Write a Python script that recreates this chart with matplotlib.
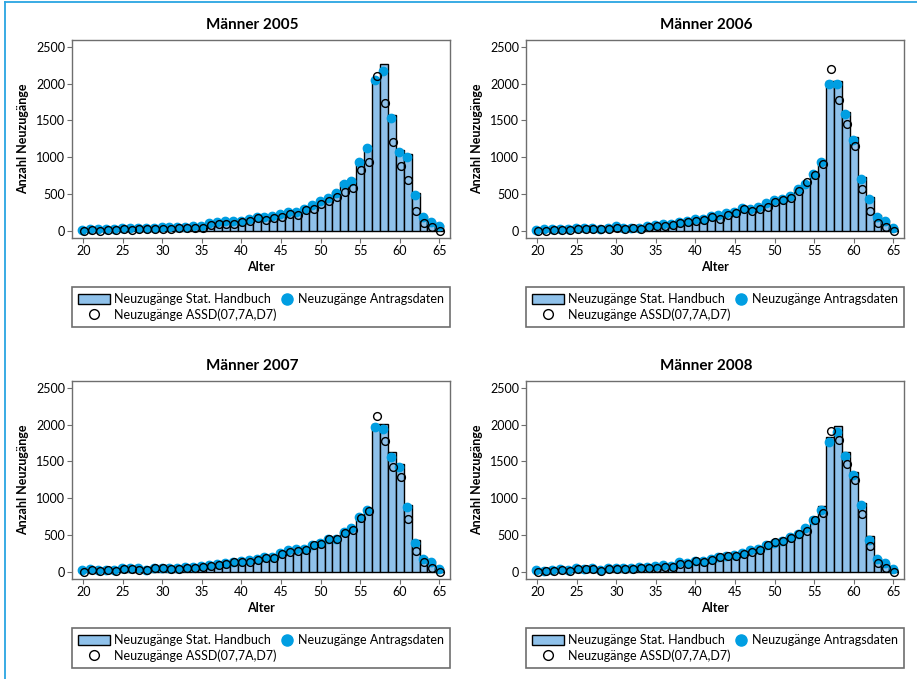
import numpy as np
import matplotlib
matplotlib.use('Agg')
import matplotlib.pyplot as plt
from matplotlib.lines import Line2D
from matplotlib.patches import Patch
from matplotlib.legend_handler import HandlerBase

plt.rcParams['font.family'] = ['Lato', 'DejaVu Sans']

ages = np.arange(20, 66)
years = ['2005', '2006', '2007', '2008']

# Neuzugänge Stat. Handbuch (bars)
handbuch_2005 = [18, 30, 26, 30, 26, 40, 40, 48, 48, 40, 58, 58, 58, 62, 76, 76, 110, 130, 145, 145, 140, 172, 196,
                 200, 210, 238, 265, 265, 312, 365, 415, 450, 530, 660, 705, 965, 1155, 2060, 2265, 1570, 1100, 1040,
                 520, 210, 135, 75]
handbuch_2006 = [16, 26, 35, 35, 26, 44, 40, 48, 36, 40, 70, 48, 48, 48, 76, 90, 100, 104, 132, 140, 172, 168, 210,
                 222, 255, 265, 312, 305, 328, 382, 428, 445, 482, 575, 640, 785, 963, 2035, 2035, 1618, 1275, 737,
                 466, 217, 150, 50]
handbuch_2007 = [30, 44, 30, 35, 30, 57, 57, 53, 35, 62, 62, 57, 53, 66, 66, 85, 94, 118, 122, 145, 154, 168, 182,
                 205, 210, 265, 300, 318, 318, 372, 395, 450, 455, 545, 605, 755, 855, 2010, 2010, 1627, 1464, 913,
                 429, 200, 145, 50]
handbuch_2008 = [30, 22, 35, 40, 30, 53, 45, 53, 30, 53, 57, 62, 53, 66, 76, 80, 100, 82, 136, 128, 160, 160, 178,
                 214, 228, 232, 260, 305, 322, 378, 395, 432, 486, 522, 600, 741, 890, 1826, 1980, 1632, 1351, 936,
                 484, 185, 125, 40]

# Neuzugänge Antragsdaten (filled dots)
antrag_2005 = [14, 27, 23, 27, 23, 36, 36, 45, 45, 36, 54, 54, 54, 59, 72, 72, 104, 127, 140, 140, 131, 167, 190,
               194, 203, 231, 258, 258, 303, 357, 407, 443, 520, 642, 678, 931, 1125, 2048, 2165, 1528, 1076, 1000,
               484, 194, 126, 68]
antrag_2006 = [14, 23, 32, 32, 23, 41, 36, 45, 32, 36, 68, 45, 45, 45, 72, 86, 95, 99, 127, 136, 167, 163, 203,
               217, 249, 258, 307, 298, 321, 375, 420, 438, 475, 565, 633, 773, 931, 1993, 1993, 1582, 1234, 705,
               434, 190, 140, 45]
antrag_2007 = [27, 41, 27, 32, 27, 54, 54, 50, 32, 59, 59, 54, 50, 63, 63, 81, 90, 113, 118, 140, 149, 163, 176,
               199, 203, 258, 294, 312, 312, 366, 389, 443, 447, 538, 597, 746, 845, 1962, 1939, 1564, 1419, 881,
               398, 181, 136, 45]
antrag_2008 = [27, 18, 32, 36, 27, 50, 41, 50, 27, 50, 54, 59, 50, 63, 72, 77, 95, 77, 131, 122, 154, 154, 172,
               208, 221, 226, 253, 298, 316, 371, 389, 425, 479, 515, 592, 705, 841, 1758, 1894, 1573, 1320, 908,
               429, 172, 118, 36]

# Neuzugänge ASSD(07,7A,D7) (open circles)
assd_2005 = [0, 14, 5, 9, 9, 23, 18, 27, 23, 23, 32, 27, 36, 36, 45, 45, 86, 95, 90, 99, 118, 140, 172, 149, 172,
             194, 231, 217, 285, 303, 371, 407, 456, 524, 579, 832, 936, 2102, 1731, 1207, 886, 696, 271, 104, 59, 0]
assd_2006 = [0, 5, 9, 14, 9, 23, 23, 32, 23, 27, 45, 23, 36, 32, 59, 72, 72, 81, 104, 118, 140, 149, 185, 163, 217,
             240, 294, 271, 303, 330, 393, 416, 452, 547, 669, 759, 904, 2197, 1776, 1455, 1148, 570, 276, 108, 54, 0]
assd_2007 = [5, 23, 14, 23, 14, 41, 45, 32, 27, 50, 50, 45, 41, 50, 54, 68, 77, 99, 104, 131, 136, 136, 167, 194,
             194, 249, 276, 285, 303, 366, 384, 447, 447, 529, 574, 737, 827, 2115, 1776, 1424, 1288, 723, 289, 131,
             54, 0]
assd_2008 = [0, 9, 14, 23, 18, 45, 36, 45, 18, 36, 36, 36, 41, 50, 54, 59, 68, 63, 108, 113, 145, 131, 163, 199,
             212, 217, 244, 271, 298, 362, 407, 416, 461, 515, 551, 705, 805, 1907, 1794, 1464, 1248, 786, 348, 118,
             50, 0]

handbuch = [handbuch_2005, handbuch_2006, handbuch_2007, handbuch_2008]
antrag = [antrag_2005, antrag_2006, antrag_2007, antrag_2008]
assd = [assd_2005, assd_2006, assd_2007, assd_2008]

labels = ['Neuzugänge Stat. Handbuch', 'Neuzugänge ASSD(07,7A,D7)', 'Neuzugänge Antragsdaten']

BAR = '#8fc1ea'
DOT = '#009ee2'
SPINE = '#6e6e6e'
FRAME = '#2aa5e2'

W, H = 917, 679


class RightDot(HandlerBase):
    # marker sits at the right end of the handle box, close to its text
    def create_artists(self, legend, orig_handle, xdescent, ydescent, width, height, fontsize, trans):
        ln = Line2D([width - xdescent - 0.45 * fontsize], [(height - ydescent) / 2.0],
                    marker='o', linestyle='none', markersize=orig_handle.get_markersize(),
                    markerfacecolor=orig_handle.get_markerfacecolor(),
                    markeredgecolor=orig_handle.get_markeredgecolor())
        ln.set_transform(trans)
        return [ln]


fig = plt.figure(figsize=(W / 100, H / 100), dpi=100)

lefts = [72, 526, 72, 526]
tops = [40, 40, 381, 381]
aw, ah = 378, 198

for i in range(4):
    ax = fig.add_axes([lefts[i] / W, 1 - (tops[i] + ah) / H, aw / W, ah / H])
    ax.bar(ages, handbuch[i], width=1.0, color=BAR, edgecolor='black', linewidth=1.0, zorder=2)
    ax.plot(ages - 0.1, antrag[i], 'o', ms=6.0, color=DOT, mec=DOT, zorder=3)
    ax.plot(ages + 0.1, assd[i], 'o', ms=5.6, mfc='none', mec='black', mew=1.0, zorder=4)

    ax.set_xlim(18.58, 66.35)
    ax.set_ylim(-95, 2590)
    ax.set_xticks(np.arange(20, 66, 5))
    ax.set_yticks(np.arange(0, 2501, 500))
    ax.tick_params(labelsize=9, length=3.5, width=0.8, color=SPINE, pad=1.5)
    for sp in ax.spines.values():
        sp.set_color(SPINE)
        sp.set_linewidth(1.0)

    ax.set_title('Männer ' + years[i], fontsize=11, fontweight='bold', x=0.478, pad=8)
    ax.set_xlabel('Alter', fontsize=9, fontweight='bold', labelpad=3)
    ax.set_ylabel('Anzahl Neuzugänge', fontsize=9, fontweight='bold', labelpad=5)

    h_bar = Patch(facecolor=BAR, edgecolor='black', linewidth=1.0)
    h_assd = Line2D([], [], marker='o', linestyle='none', ms=7, mfc='white', mec='black', mew=1.0)
    h_dot = Line2D([], [], marker='o', linestyle='none', ms=8, mfc=DOT, mec=DOT)
    leg = ax.legend([h_bar, h_assd, h_dot], labels, ncol=2, loc='upper left',
                    bbox_to_anchor=(0, -49 / ah, 1, 0), mode='expand', borderaxespad=0,
                    fontsize=9, handlelength=2.5, handleheight=0.9, handletextpad=0.4,
                    labelspacing=0.25, borderpad=0.5, columnspacing=0.8,
                    fancybox=False, edgecolor=SPINE, framealpha=1,
                    handler_map={h_dot: RightDot()})
    leg.get_frame().set_linewidth(1.2)

# light blue frame lines at the top and left edge
fig.add_artist(Line2D([5 / W, 5 / W], [0, 1 - 2 / H], transform=fig.transFigure, color=FRAME, lw=1.3))
fig.add_artist(Line2D([5 / W, 1], [1 - 2 / H, 1 - 2 / H], transform=fig.transFigure, color=FRAME, lw=1.3))

fig.savefig('out.png', dpi=100)
